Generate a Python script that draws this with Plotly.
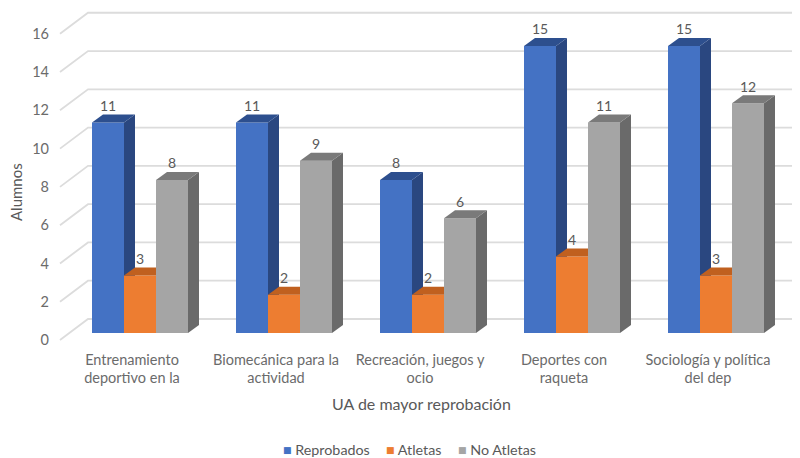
import plotly.graph_objects as go

categories = ["Entrenamiento<br>deportivo en la", "Biomecánica para la<br>actividad",
              "Recreación, juegos y<br>ocio", "Deportes con<br>raqueta",
              "Sociología y política<br>del dep"]
reprobados = [11, 11, 8, 15, 15]
atletas = [3, 2, 2, 4, 3]
no_atletas = [8, 9, 6, 11, 12]
y_ticks = [0, 2, 4, 6, 8, 10, 12, 14, 16]

W, H = 800, 458
PAGE = 8                      # the page's own margin around the figure
LEFT, BOTTOM = 50 - PAGE, 345 - PAGE   # plot area edges in figure pixels
PX_X = 144.0                  # pixels per category
PX_Y = 19.14                  # pixels per value unit
X0_PX = 140.0 - PAGE          # pixel of category 0
BASE_BAR = 333.0 - PAGE       # pixel of value 0 for the bars
BASE_AXIS = 340.0 - PAGE      # pixel of value 0 for the axis (front of floor)
BAR_W = 32 / PX_X
DX, DY = 11 / PX_X, 8 / PX_Y  # bar depth
WALL_DX, WALL_DY = 28 / PX_X, 21 / PX_Y  # floor depth
xn = list(range(len(categories)))

series = [
    ("Reprobados", reprobados, -1.5, "#4472c4", "#2a4780", "#2d4f8e", "y2", 281),
    ("Atletas", atletas, -0.5, "#ed7d31", "#a9561c", "#c0601f", "y3", 384),
    ("No Atletas", no_atletas, 0.5, "#a5a5a5", "#6a6a6a", "#7a7a7a", "y4", 456),
]

fig = go.Figure()

# grid on the floor-and-wall, on the main axis
gx, gy = [], []
left_x = (60 - PAGE - X0_PX) / PX_X
right_x = (W - X0_PX) / PX_X
for t in y_ticks:
    gx += [left_x, left_x + WALL_DX, right_x, None]
    gy += [t, t + WALL_DY, t + WALL_DY, None]
fig.add_trace(go.Scatter(x=gx, y=gy, mode="lines", line=dict(color="#dcdcdc", width=1.8),
                         showlegend=False, hoverinfo="skip", yaxis="y"))

legend_notes = []
for name, vals, off, col, side, top, ya, lx in series:
    fig.add_trace(go.Bar(x=xn, y=vals, name=name, width=BAR_W, offset=off * BAR_W,
                         marker=dict(color=col, line=dict(width=0)), yaxis=ya, showlegend=False))
    sx, sy, tx, ty = [], [], [], []
    for i, v in zip(xn, vals):
        a = i + off * BAR_W
        b = a + BAR_W
        sx += [b, b + DX, b + DX, b, b, None]
        sy += [v, v + DY, DY, 0, v, None]
        tx += [a, a + DX, b + DX, b, a, None]
        ty += [v, v + DY, v + DY, v, v, None]
    for px_, py_, c in ((sx, sy, side), (tx, ty, top)):
        fig.add_trace(go.Scatter(x=px_, y=py_, mode="lines", fill="toself", fillcolor=c,
                                 line=dict(width=0, color=c), showlegend=False,
                                 hoverinfo="skip", yaxis=ya))
    fig.add_trace(go.Scatter(x=[i + (off + 0.5) * BAR_W for i in xn], y=[v + DY for v in vals],
                             mode="text", text=[str(v) for v in vals], textposition="top center",
                             textfont=dict(family="Lato", size=14, color="#595959"),
                             showlegend=False, hoverinfo="skip", yaxis=ya))
    legend_notes.append(dict(
        text=f"<span style='color:{col}'>■</span> {name}", xref="paper", yref="paper",
        x=(lx - PAGE - LEFT) / (W - LEFT), y=(BOTTOM - (449 - PAGE)) / BOTTOM,
        xanchor="left", yanchor="middle", showarrow=False,
        font=dict(size=14.3, color="#595959")))

def y_range(base):
    return [(base - BOTTOM) / PX_Y, base / PX_Y]

hidden = dict(overlaying="y", visible=False, range=y_range(BASE_BAR), fixedrange=True)
fig.update_layout(
    width=W, height=H, autosize=False, showlegend=False,
    margin=dict(l=LEFT, r=0, t=0, b=H - BOTTOM, pad=0, autoexpand=False),
    paper_bgcolor="white", plot_bgcolor="white",
    font=dict(family="Lato", size=14.5, color="#6b6b6b"),
    xaxis=dict(range=[(LEFT - X0_PX) / PX_X, (W - X0_PX) / PX_X],
               tickmode="array", tickvals=[i - 8 / PX_X for i in xn], ticktext=categories,
               showgrid=False, zeroline=False, showline=False, ticks="", ticklabelstandoff=4,
               tickfont=dict(size=14.5, color="#6b6b6b"), fixedrange=True),
    yaxis=dict(range=y_range(BASE_AXIS), tickmode="array", tickvals=y_ticks,
               showgrid=False, zeroline=False, showline=False, ticks="",
               tickfont=dict(size=14.5, color="#6b6b6b"), fixedrange=True),
    yaxis2=hidden, yaxis3=hidden, yaxis4=hidden,
    annotations=[
        dict(text="Alumnos", xref="paper", yref="paper", x=(16 - PAGE - LEFT) / (W - LEFT),
             y=(BOTTOM - (192 - PAGE)) / BOTTOM, textangle=-90, showarrow=False,
             xanchor="center", yanchor="middle", font=dict(size=15, color="#595959")),
        dict(text="UA de mayor reprobación", xref="paper", yref="paper",
             x=(421 - PAGE - LEFT) / (W - LEFT), y=(BOTTOM - (403 - PAGE)) / BOTTOM,
             xanchor="center", yanchor="middle",
             showarrow=False, font=dict(size=16, color="#595959")),
    ] + legend_notes,
)
fig.write_html("out.html")
